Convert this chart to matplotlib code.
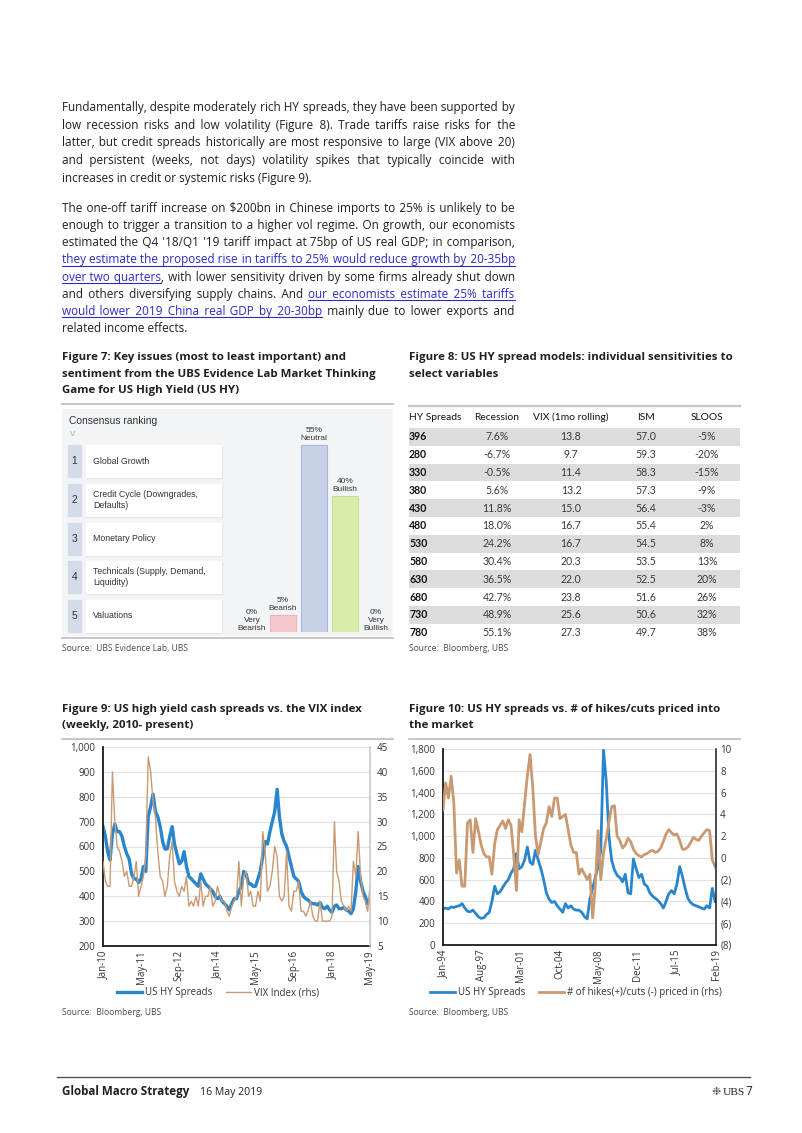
import matplotlib
matplotlib.use("Agg")
import matplotlib.pyplot as plt
from matplotlib.lines import Line2D
from matplotlib.patches import Rectangle
from matplotlib.ticker import FuncFormatter
import pandas as pd

SANS = ["Open Sans", "DejaVu Sans"]
plt.rcParams["font.family"] = SANS

W, H = 802, 1133
TEXT = "#231f20"
LINK = "#2b2bc4"
GREY_RULE = "#c6c6c6"
BLUE = "#2a86cc"
TAN = "#c99a72"

# ---------------- data ----------------
para1 = [
    "Fundamentally, despite moderately rich HY spreads, they have been supported by",
    "low recession risks and low volatility (Figure 8). Trade tariffs raise risks for the",
    "latter, but credit spreads historically are most responsive to large (VIX above 20)",
    "and persistent (weeks, not days) volatility spikes that typically coincide with",
    "increases in credit or systemic risks (Figure 9).",
]
para2 = [
    "The one-off tariff increase on $200bn in Chinese imports to 25% is unlikely to be",
    "enough to trigger a transition to a higher vol regime. On growth, our economists",
    "estimated the Q4 '18/Q1 '19 tariff impact at 75bp of US real GDP; in comparison,",
    "[they estimate the proposed rise in tariffs to 25% would reduce growth by 20-35bp",
    "over two quarters], with lower sensitivity driven by some firms already shut down",
    "and others diversifying supply chains. And [our economists estimate 25% tariffs",
    "would lower 2019 China real GDP by 20-30bp] mainly due to lower exports and",
    "related income effects.",
]

issues = ["Global Growth", "Credit Cycle (Downgrades,\nDefaults)", "Monetary Policy",
          "Technicals (Supply, Demand,\nLiquidity)", "Valuations"]
sentiment = ["Very\nBearish", "Bearish", "Neutral", "Bullish", "Very\nBullish"]
sentiment_pct = [0, 5, 55, 40, 0]

table_cols = ["HY Spreads", "Recession", "VIX (1mo rolling)", "ISM", "SLOOS"]
hy_spreads = [396, 280, 330, 380, 430, 480, 530, 580, 630, 680, 730, 780]
recession = [7.6, -6.7, -0.5, 5.6, 11.8, 18.0, 24.2, 30.4, 36.5, 42.7, 48.9, 55.1]
vix_1m = [13.8, 9.7, 11.4, 13.2, 15.0, 16.7, 16.7, 20.3, 22.0, 23.8, 25.6, 27.3]
ism = [57.0, 59.3, 58.3, 57.3, 56.4, 55.4, 54.5, 53.5, 52.5, 51.6, 50.6, 49.7]
sloos = [-5, -20, -15, -9, -3, 2, 8, 13, 20, 26, 32, 38]

# Figure 9, monthly readings Jan-10 .. May-19
dates9 = pd.date_range("2010-01-01", "2019-05-01", freq="MS")
hy9 = [680, 640, 580, 545, 650, 690, 660, 660, 640, 600, 570, 550,
       490, 470, 470, 455, 470, 520, 500, 720, 760, 810, 740, 720,
       680, 620, 590, 590, 640, 680, 610, 570, 530, 540, 580, 520,
       480, 470, 460, 450, 440, 490, 470, 450, 440, 430, 420, 400,
       390, 400, 380, 370, 360, 345, 370, 390, 390, 420, 440, 500,
       490, 450, 450, 440, 440, 470, 500, 560, 620, 610, 660, 700,
       740, 830, 720, 650, 620, 600, 560, 520, 480, 470, 460, 420,
       400, 390, 385, 375, 370, 370, 365, 375, 355, 350, 360, 345,
       335, 360, 365, 350, 350, 355, 345, 340, 330, 350, 420, 520,
       460, 420, 400, 370, 385]
vix9 = [22, 18, 17, 17, 40, 30, 25, 24, 22, 19, 20, 17,
        17, 19, 22, 15, 17, 19, 23, 43, 40, 34, 31, 24,
        19, 18, 15, 17, 23, 26, 18, 16, 15, 17, 16, 19,
        13, 14, 13, 15, 13, 18, 13, 15, 15, 17, 13, 14,
        17, 15, 14, 14, 12, 11, 13, 14, 15, 22, 13, 19,
        20, 15, 16, 13, 13, 16, 14, 28, 24, 16, 17, 20,
        25, 23, 15, 14, 15, 24, 13, 12, 16, 16, 18, 12,
        12, 11, 12, 14, 11, 10, 10, 14, 10, 10, 10, 10,
        11, 30, 20, 18, 14, 13, 12, 13, 12, 22, 19, 28,
        19, 15, 14, 12, 17]
ticks9 = pd.date_range("2010-01-01", "2019-05-01", freq="16MS")

# Figure 10, quarterly readings Jan-94 .. Jan-19
dates10 = pd.date_range("1994-01-01", periods=101, freq="QS")
hy10 = [330, 340, 330, 350, 345, 355, 360, 380, 340, 310,
        305, 320, 290, 260, 245, 250, 280, 300, 400, 540,
        470, 490, 530, 570, 600, 660, 700, 840, 700, 720,
        780, 900, 760, 740, 870, 780, 700, 600, 480, 420,
        390, 400, 360, 330, 300, 380, 340, 360, 330, 320,
        320, 300, 260, 240, 420, 520, 620, 720, 870, 1790,
        1500, 1000, 780, 690, 640, 620, 580, 650, 480, 470,
        790, 700, 620, 650, 560, 540, 480, 450, 430, 410,
        380, 340, 400, 470, 500, 470, 560, 720, 630, 520,
        430, 390, 370, 360, 350, 340, 330, 360, 340, 520,
        400]
hikes10 = [4.4, 6.9, 5.5, 7.5, 5.0, -1.4, -0.2, -2.6, -2.6, 3.2,
           3.5, 0.5, 3.6, 2.5, 1.2, 0.4, 0.1, 0.1, -1.5, 1.3,
           2.6, 3.0, 3.4, 2.7, 3.5, 3.0, 0.3, -3.0, 3.5, 2.4,
           5.0, 7.5, 9.5, 6.5, 2.0, 0.3, 1.5, 2.7, 3.2, 4.7,
           3.8, 5.5, 5.5, 3.6, 3.8, 4.0, 2.6, 1.2, 0.5, 0.5,
           -1.5, -1.0, -1.5, -2.0, -1.5, -5.5, -2.5, 2.5, -2.0, 0.5,
           1.8, 3.3, 4.7, 4.8, 2.0, 1.6, 0.9, 1.2, 1.8, 1.5,
           0.8, 0.4, 0.2, 0.1, 0.3, 0.4, 0.6, 0.7, 0.5, 0.6,
           0.9, 1.5, 2.2, 2.6, 2.3, 2.1, 2.2, 1.6, 0.8, 0.8,
           1.0, 1.4, 1.9, 1.7, 1.6, 2.0, 2.3, 2.6, 2.5, -0.2,
           -0.8]
ticks10 = pd.date_range("1994-01-01", "2019-02-01", freq="43MS")

# ---------------- helpers ----------------
fig = plt.figure(figsize=(W / 100, H / 100), dpi=100)
fig.patch.set_facecolor("white")
renderer = fig.canvas.get_renderer()


def fx(x):
    return x / W


def fy(y):
    return 1 - y / H


def box(x0, y0, x1, y1):
    return [x0 / W, 1 - y1 / H, (x1 - x0) / W, (y1 - y0) / H]


def hline(x0, x1, y, color=GREY_RULE, lw=1.4):
    fig.add_artist(Line2D([fx(x0), fx(x1)], [fy(y), fy(y)], color=color, lw=lw))


def text(x, y, s, **kw):
    kw.setdefault("color", TEXT)
    kw.setdefault("va", "baseline")
    return fig.text(fx(x), fy(y), s, parse_math=False, **kw)


def ink(s, size, weight="normal"):
    t = fig.text(0, 0, s, fontsize=size, fontweight=weight, parse_math=False)
    w = t.get_window_extent(renderer).width
    t.remove()
    return w


def adv(s, size, weight="normal"):
    # pen advance of s, spaces included
    return ink("|" + s + "|", size, weight) - ink("||", size, weight)


def fit(s, width, weight="normal"):
    return 10 * width / adv(s, 10, weight)


# ---------------- body text (justified) ----------------
X0, X1 = 62, 515
HAIR = "\u200a"


def parse(line, state):
    words = []
    for raw in line.split(" "):
        pieces, buf = [], ""
        for ch in raw:
            if ch in "[]":
                if buf:
                    pieces.append((buf, state[0]))
                    buf = ""
                state[0] = ch == "["
            else:
                buf += ch
        if buf:
            pieces.append((buf, state[0]))
        words.append(pieces)
    return words


def strip_marks(line):
    return line.replace("[", "").replace("]", "")


justified = para1[:-1] + para2[:-1]
BODY_SIZE = min(fit(strip_marks(l), X1 - X0) for l in justified) * 0.995
HAIR_W = adv(HAIR * 20, BODY_SIZE) / 20


def body_line(line, y, justify, state):
    words = parse(line, state)
    ngaps = len(words) - 1
    counts = [0] * ngaps
    if justify and ngaps:
        natural = adv(strip_marks(line), BODY_SIZE)
        extra = max(int(round((X1 - X0 - natural) / HAIR_W)), 0)
        base, rem = divmod(extra, ngaps)
        for g in range(ngaps):
            counts[g] = base + ((g + 1) * rem // ngaps - g * rem // ngaps)
    chars, flags = "", []
    prev = None
    for i, pieces in enumerate(words):
        if i > 0:
            gap = " " + HAIR * counts[i - 1]
            f = prev if prev == pieces[0][1] else False
            chars += gap
            flags += [f] * len(gap)
        for s, link in pieces:
            chars += s
            flags += [link] * len(s)
        prev = pieces[-1][1]
    start = 0
    while start < len(chars):
        end = start
        while end < len(chars) and flags[end] == flags[start]:
            end += 1
        seg = chars[start:end]
        x = X0 + (adv(chars[:start], BODY_SIZE) if start else 0)
        link = flags[start]
        text(x, y, seg, fontsize=BODY_SIZE, color=LINK if link else TEXT)
        if link:
            hline(x, x + adv(seg, BODY_SIZE), y + 2.4, color=LINK, lw=0.8)
        start = end


state = [False]
for i, line in enumerate(para1):
    body_line(line, 111 + 17.65 * i, i < len(para1) - 1, state)
for i, line in enumerate(para2):
    body_line(line, 211.7 + 17.2 * i, i < len(para2) - 1, state)

# ---------------- titles / rules / sources ----------------
TSIZE = fit("Figure 8: US HY spread models: individual sensitivities to", 323, "bold")
for i, s in enumerate(["Figure 7: Key issues (most to least important) and",
                       "sentiment from the UBS Evidence Lab Market Thinking",
                       "Game for US High Yield (US HY)"]):
    text(62, 360.5 + 16.3 * i, s, fontsize=TSIZE, fontweight="bold")
for i, s in enumerate(["Figure 8: US HY spread models: individual sensitivities to",
                       "select variables"]):
    text(409, 360.5 + 16.3 * i, s, fontsize=TSIZE, fontweight="bold")
for i, s in enumerate(["Figure 9: US high yield cash spreads vs. the VIX index",
                       "(weekly, 2010- present)"]):
    text(62, 712 + 15.7 * i, s, fontsize=TSIZE, fontweight="bold")
for i, s in enumerate(["Figure 10: US HY spreads vs. # of hikes/cuts priced into",
                       "the market"]):
    text(409, 712 + 15.7 * i, s, fontsize=TSIZE, fontweight="bold")

hline(62, 393, 404)
hline(62, 393, 638)
hline(62, 393, 739)
hline(409, 740, 739)

SSIZE = fit("Source:  UBS Evidence Lab, UBS", 125)
SRC = dict(fontsize=SSIZE, color="#4a4a4a")
text(62, 651, "Source:  UBS Evidence Lab, UBS", **SRC)
text(409, 651, "Source:  Bloomberg, UBS", **SRC)
text(62, 1015, "Source:  Bloomberg, UBS", **SRC)
text(409, 1015, "Source:  Bloomberg, UBS", **SRC)

# ---------------- Figure 7 ----------------
CF = "Liberation Sans"
ax7 = fig.add_axes(box(62, 409, 393, 636))
ax7.set_xlim(62, 393)
ax7.set_ylim(636, 409)
ax7.axis("off")
ax7.add_patch(Rectangle((62, 409), 331, 227, color="#f3f4f6", zorder=0))
ax7.text(69, 421, "Consensus ranking", family=CF, fontsize=7.4, color="#333333", va="center")
ax7.text(69.5, 434, "V", family=CF, fontsize=5.5, color="#9aa6bb", va="center")
for i, issue in enumerate(issues):
    top = 445 + 38.75 * i
    ax7.add_patch(Rectangle((68, top), 13, 32, color="#d4dcea", zorder=1))
    ax7.add_patch(Rectangle((86, top + 1), 136, 32, color="#dfe2e7", zorder=1))
    ax7.add_patch(Rectangle((86, top), 135, 32, color="white", zorder=2))
    ax7.text(74.5, top + 16, str(i + 1), family=CF, fontsize=7.4, color="#333333",
             ha="center", va="center", zorder=3)
    ax7.text(93, top + 16, issue, family=CF, fontsize=6.3, color="#333333",
             va="center", linespacing=1.25, zorder=3)

axb = fig.add_axes(box(236.5, 409, 391.5, 632))
axb.set_xlim(-0.5, 4.5)
axb.set_ylim(0, 55 * 223 / 187)
axb.axis("off")
axb.bar(range(len(sentiment)), sentiment_pct, width=0.87,
        color=["#f6c7cd", "#f6c7cd", "#c7d2e8", "#d9ecaa", "#d9ecaa"],
        edgecolor=["#eab4bb", "#eab4bb", "#a9b7d6", "#c8df8e", "#c8df8e"], lw=0.8)
for i, (lab, v) in enumerate(zip(sentiment, sentiment_pct)):
    axb.annotate(f"{v}%\n{lab}", (i, v), xytext=(0, 2.5 if v else 0), textcoords="offset points",
                 ha="center", va="bottom", family=CF, fontsize=6.0, color="#333333",
                 linespacing=1.15)

# ---------------- Figure 8 table ----------------
TF = "Lato"
axt = fig.add_axes(box(405, 406, 742, 642))
axt.set_xlim(405, 742)
axt.set_ylim(11.52, -1.74)
axt.axis("off")
hline(409, 740, 406, lw=1.6)
for r in range(0, len(hy_spreads), 2):
    axt.axhspan(r - 0.5, r + 0.5, xmin=4 / 337, xmax=335 / 337, color="#dcdcdc", lw=0)
col_x = [409, 497, 571, 646, 707]
col_ha = ["left", "center", "center", "center", "center"]
for c, name in enumerate(table_cols):
    axt.text(col_x[c], -1.12, name, family=TF, fontsize=7.4, ha=col_ha[c], va="center", color="#111111")
for r in range(len(hy_spreads)):
    cells = [f"{hy_spreads[r]}", f"{recession[r]:.1f}%", f"{vix_1m[r]:.1f}",
             f"{ism[r]:.1f}", f"{sloos[r]}%"]
    for c, s in enumerate(cells):
        axt.text(col_x[c], r, s, family=TF, fontsize=7.6, ha=col_ha[c], va="center",
                 color="#111111" if c == 0 else "#3a3a3a",
                 fontweight="bold" if c == 0 else "normal")


# ---------------- line charts ----------------
def style_axes(ax, axr, right_color, lpad, rpad):
    ax.spines["top"].set_visible(False)
    ax.spines["right"].set_visible(False)
    ax.spines["left"].set_color("#1a1a1a")
    ax.spines["left"].set_linewidth(1.3)
    ax.spines["bottom"].set_color("#1a1a1a")
    ax.spines["bottom"].set_linewidth(1.3)
    for s in ["top", "left", "bottom"]:
        axr.spines[s].set_visible(False)
    axr.spines["right"].set_color(right_color)
    axr.spines["right"].set_linewidth(1.1)
    ax.yaxis.grid(True, color="#e2e2e2", lw=0.8)
    ax.set_axisbelow(True)
    ax.tick_params(axis="y", length=0, labelsize=7, colors="#333333", pad=lpad)
    ax.tick_params(axis="x", length=0, labelsize=7, colors="#333333", pad=3, labelrotation=90)
    axr.tick_params(axis="y", length=0, labelsize=7, colors="#333333", pad=rpad)


LEG = dict(ncol=2, loc="center", bbox_transform=fig.transFigure, frameon=False, fontsize=7,
           handlelength=2.6, handletextpad=0.3, columnspacing=1.4, borderpad=0,
           labelcolor="#333333")

# Figure 9
ax9 = fig.add_axes(box(103, 747, 370, 946))
ax9r = ax9.twinx()
h1, = ax9.plot(dates9, hy9, color=BLUE, lw=2.4, label="US HY Spreads")
h2, = ax9r.plot(dates9, vix9, color=TAN, lw=1.0, label="VIX Index (rhs)")
ax9.set_ylim(200, 1000)
ax9.set_yticks(range(200, 1001, 100))
ax9.yaxis.set_major_formatter(FuncFormatter(lambda v, p: f"{v:,.0f}"))
ax9r.set_ylim(5, 45)
ax9r.set_yticks(range(5, 46, 5))
ax9.set_xlim(dates9[0], dates9[-1])
ax9.set_xticks(ticks9)
ax9.set_xticklabels([d.strftime("%b-%y") for d in ticks9])
style_axes(ax9, ax9r, "#c4c4c4", 5.5, 5)
ax9.legend([h1, h2], [h1.get_label(), h2.get_label()], bbox_to_anchor=(fx(218), fy(993)), **LEG)

# Figure 10
ax10 = fig.add_axes(box(443, 749, 716, 945))
ax10r = ax10.twinx()
g1, = ax10.plot(dates10, hy10, color=BLUE, lw=2.0, label="US HY Spreads")
g2, = ax10r.plot(dates10, hikes10, color=TAN, lw=2.0, label="# of hikes(+)/cuts (-) priced in (rhs)")
ax10.set_ylim(0, 1800)
ax10.set_yticks(range(0, 1801, 200))
ax10.yaxis.set_major_formatter(FuncFormatter(lambda v, p: f"{v:,.0f}"))
ax10r.set_ylim(-8, 10)
ax10r.set_yticks(range(-8, 11, 2))
ax10r.yaxis.set_major_formatter(FuncFormatter(lambda v, p: f"({-v:.0f})" if v < 0 else f"{v:.0f}"))
ax10.set_xlim(pd.Timestamp("1994-01-01"), pd.Timestamp("2019-02-01"))
ax10.set_xticks(ticks10)
ax10.set_xticklabels([d.strftime("%b-%y") for d in ticks10])
style_axes(ax10, ax10r, "#1a1a1a", 5.5, 3)
ax10.legend([g1, g2], [g1.get_label(), g2.get_label()], bbox_to_anchor=(fx(576), fy(993)), **LEG)

# ---------------- footer ----------------
hline(57, 750, 1077, color="#555555", lw=1.0)
FSIZE = fit("Global Macro Strategy", 128, "bold")
text(62, 1095, "Global Macro Strategy", fontsize=FSIZE, fontweight="bold")
text(200, 1095, "16 May 2019", fontsize=fit("16 May 2019", 62))
text(712, 1095, "\u2749", fontsize=8, color="#555555", family="DejaVu Sans")
text(723, 1095, "UBS", fontsize=8.2, family="Liberation Serif")
text(745, 1095, "7", fontsize=FSIZE)

fig.savefig("out.png", dpi=100, facecolor="white")
